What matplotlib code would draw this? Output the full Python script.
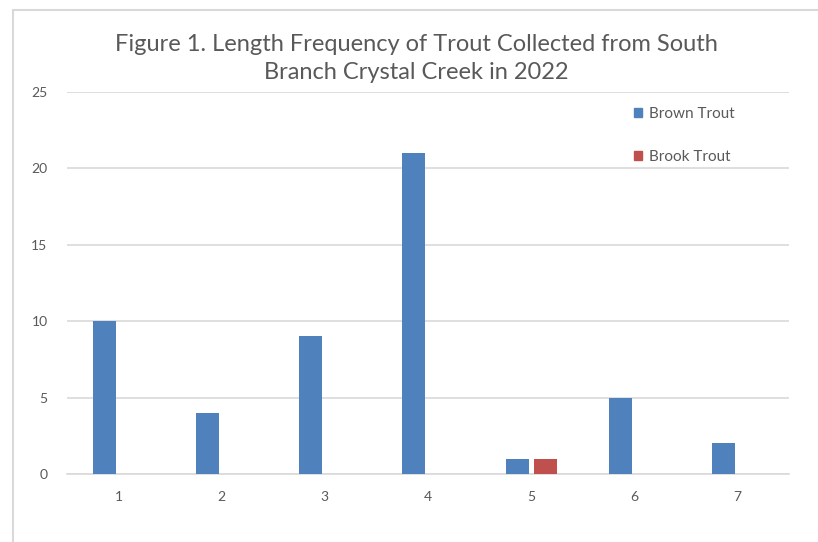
import matplotlib
matplotlib.use("Agg")
import matplotlib.pyplot as plt
import matplotlib.patches as mpatches
import numpy as np

categories = ["1", "2", "3", "4", "5", "6", "7"]
brown_trout = [10, 4, 9, 21, 1, 5, 2]
brook_trout = [0, 0, 0, 0, 1, 0, 0]
yticks = [0, 5, 10, 15, 20, 25]

plt.rcParams['font.family'] = ['Lato', 'DejaVu Sans']
txt = '#595959'
grid = '#d9d9d9'

fig = plt.figure(figsize=(8.18, 5.42), dpi=100)
ax = fig.add_axes([67/818, 1-474/542, (789-67)/818, (474-92)/542])

x = np.arange(1, len(categories)+1)
w = 0.223
off = 0.136
ax.bar(x - off, brown_trout, width=w, color='#4F81BD', label='Brown Trout', zorder=3)
ax.bar(x + off, brook_trout, width=w, color='#C0504D', label='Brook Trout', zorder=3)

ax.set_xlim(0.5, len(categories)+0.5)
ax.set_ylim(0, 25)
ax.set_xticks(x)
ax.set_xticklabels(categories)
ax.set_yticks(yticks)
ax.yaxis.grid(True, color=grid, linewidth=1.2, zorder=0)
ax.set_axisbelow(True)
for s in ['top', 'right', 'left']:
    ax.spines[s].set_visible(False)
ax.spines['bottom'].set_color(grid)
ax.spines['bottom'].set_linewidth(1.2)
ax.tick_params(axis='both', length=0, colors=txt, labelsize=10)
ax.tick_params(axis='y', pad=14)
ax.tick_params(axis='x', pad=12)

fig.text(416/818, 1-58.5/542, "Figure 1. Length Frequency of Trout Collected from South\nBranch Crystal Creek in 2022",
         ha='center', va='center', fontsize=17, color=txt, linespacing=1.4)

handles = [mpatches.Patch(color='#4F81BD'), mpatches.Patch(color='#C0504D')]
leg = fig.legend(handles, ['Brown Trout', 'Brook Trout'], loc='upper left',
                 bbox_to_anchor=(634/818, 1-107/542), frameon=False, fontsize=11,
                 handlelength=0.55, handleheight=0.55, handletextpad=0.4,
                 labelspacing=1.88, borderpad=0, borderaxespad=0)
for t in leg.get_texts():
    t.set_color(txt)

border = mpatches.Rectangle((13/818, -0.1), 1.0, 1-10/542+0.1, transform=fig.transFigure,
                            fill=False, edgecolor=grid, linewidth=1.5, clip_on=False)
fig.patches.append(border)

fig.savefig('out.png', dpi=100)
